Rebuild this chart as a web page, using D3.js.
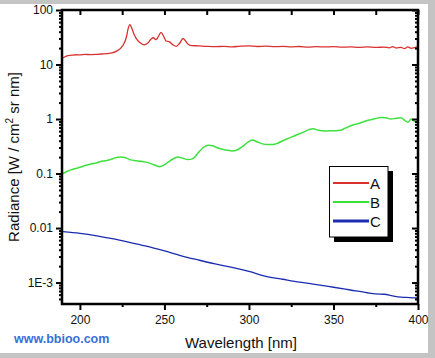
<!DOCTYPE html>
<html>
<head>
<meta charset="utf-8">
<script src="https://cdn.jsdelivr.net/npm/d3@7"></script>
<style>
  body { margin: 0; background: #fff; }
  svg { display: block; }
  text { font-family: "Liberation Sans", Arial, sans-serif; }
</style>
</head>
<body>
<svg width="435" height="358"></svg>
<script>
// wavelength [nm] / radiance values
const waveA = [190,192,195,198,200,203,206,210,213,216,219,222,224,226,227.5,228.5,229.5,230.5,232,234,236,238,240,242,243.5,245,246.5,248,249.5,251,253,255,257,259,261,262.5,264,266,270,275,280,285,290,295,300,305,310,315,320,325,330,335,340,345,350,355,360,365,370,375,380,383,385,387,390,392,394,396,398,400];
const valA = [13.2,14.3,14.8,15.1,15.0,15.3,15.2,15.4,15.6,15.8,16.3,17.8,19.8,24,32,45,54,48,36,28,24.5,23,24.5,29,31,28.5,33,39,33,27,26,23,21.5,24.5,30,27,23.5,22.3,22,21.5,21.2,21.6,21,21.8,22,21.4,21.7,21.2,21.5,21,21.4,20.9,21.3,21,21.2,20.8,21,20.7,21.1,20.6,20.9,20.2,21.3,20.1,20.6,19.6,21,19.8,20.5,21];

const waveB = [190,192,195,198,200,203,206,209,212,215,218,221,224,227,230,233,236,239,242,245,247,249,252,255,258,261,264,267,270,273,276,279,282,286,290,293,296,299,302,305,308,311,314,317,320,324,328,332,336,338,341,345,350,354,357,361,365,369,372,375,378,381,384,387,390,392,394,396,398,400];
const valB = [0.100,0.108,0.118,0.125,0.13,0.14,0.148,0.155,0.165,0.172,0.18,0.195,0.2,0.195,0.178,0.172,0.168,0.162,0.152,0.14,0.133,0.14,0.16,0.185,0.2,0.19,0.18,0.19,0.24,0.3,0.33,0.32,0.29,0.27,0.26,0.27,0.31,0.37,0.41,0.38,0.35,0.34,0.34,0.36,0.4,0.45,0.51,0.57,0.65,0.66,0.62,0.6,0.61,0.62,0.68,0.77,0.83,0.92,0.97,1.02,1.07,1.05,1.0,1.03,1.05,0.95,0.87,1.0,0.9,0.88];

const waveC = [190,200,210,220,230,240,250,260,270,280,290,300,310,320,330,340,350,360,370,375,380,385,390,395,400];
const valC = [0.0086,0.0080,0.0072,0.0063,0.0054,0.0046,0.0038,0.0031,0.0026,0.0022,0.0019,0.0016,0.0013,0.00115,0.00102,0.00092,0.00082,0.00073,0.00065,0.00062,0.00061,0.00057,0.00054,0.00053,0.00052];

const seriesNames = ["A", "B", "C"];
const seriesColors = ["#d93030", "#3ee03e", "#1c2cb0"];

const xTicks = [200, 250, 300, 350, 400];
const xMinorTicks = [225, 275, 325, 375];
const yTicks = [100, 10, 1, 0.1, 0.01, 0.001];
const yTickLabels = ["100", "10", "1", "0.1", "0.01", "1E-3"];

const svg = d3.select("svg");

// card with a grey shadow around it
svg.append("rect").attr("width", 435).attr("height", 358).attr("fill", "#c4c4c4");
svg.append("rect").attr("x", 0).attr("y", 4).attr("width", 428).attr("height", 349).attr("fill", "#fff");

const pLeft = 62, pRight = 418, pTop = 10, pBottom = 304;

const x = d3.scaleLinear().domain([189.4, 400]).range([pLeft, pRight]);
const y = d3.scaleLog().domain([4.04e-4, 100]).range([pBottom, pTop]);

const minorY = y.ticks().filter(v => !yTicks.some(t => Math.abs(t - v) / t < 1e-6));

// clip for the curves
svg.append("clipPath").attr("id", "clip")
  .append("rect").attr("x", pLeft).attr("y", pTop).attr("width", pRight - pLeft).attr("height", pBottom - pTop);

const line = d3.line()
  .x(d => x(d[0]))
  .y(d => y(d[1]))
  .curve(d3.curveMonotoneX);

const data = [
  d3.zip(waveA, valA),
  d3.zip(waveB, valB),
  d3.zip(waveC, valC)
];
const widths = [1.3, 1.5, 1.3];

svg.append("g").attr("clip-path", "url(#clip)")
  .selectAll("path")
  .data(data)
  .enter()
  .append("path")
  .attr("fill", "none")
  .attr("stroke", (d, i) => seriesColors[i])
  .attr("stroke-width", (d, i) => widths[i])
  .attr("d", line);

// axes
function styleAxis(g) {
  g.select(".domain").remove();
  g.selectAll("line").attr("stroke", "#000").attr("stroke-width", 2);
  g.selectAll("text").attr("font-size", 12).attr("fill", "#111");
}

svg.append("g").attr("transform", `translate(0,${pBottom})`)
  .call(d3.axisBottom(x).tickValues(xTicks).tickSize(6).tickPadding(5).tickFormat(d3.format("d")))
  .call(styleAxis);
svg.append("g").attr("transform", `translate(0,${pBottom})`)
  .call(d3.axisBottom(x).tickValues(xMinorTicks).tickSize(3).tickFormat(""))
  .call(styleAxis);
svg.append("g").attr("transform", `translate(0,${pTop})`)
  .call(d3.axisBottom(x).tickValues(xTicks.concat(xMinorTicks)).tickSize(5).tickFormat(""))
  .call(styleAxis);

svg.append("g").attr("transform", `translate(${pLeft},0)`)
  .call(d3.axisLeft(y).tickValues(yTicks).tickSize(6).tickPadding(3).tickFormat((d, i) => yTickLabels[i]))
  .call(styleAxis);
svg.append("g").attr("transform", `translate(${pLeft},0)`)
  .call(d3.axisLeft(y).tickValues(minorY).tickSize(3).tickFormat(""))
  .call(styleAxis);
svg.append("g").attr("transform", `translate(${pRight},0)`)
  .call(d3.axisLeft(y).tickValues(yTicks).tickSize(6).tickFormat(""))
  .call(styleAxis);
svg.append("g").attr("transform", `translate(${pRight},0)`)
  .call(d3.axisLeft(y).tickValues(minorY).tickSize(3).tickFormat(""))
  .call(styleAxis);

svg.append("rect")
  .attr("x", pLeft).attr("y", pTop)
  .attr("width", pRight - pLeft).attr("height", pBottom - pTop)
  .attr("fill", "none").attr("stroke", "#000").attr("stroke-width", 2.5);

// axis titles
svg.append("text")
  .attr("x", 241).attr("y", 348)
  .attr("text-anchor", "middle")
  .attr("font-size", 15)
  .attr("fill", "#111")
  .text("Wavelength [nm]");

const yl = svg.append("text")
  .attr("transform", "translate(19,157) rotate(-90)")
  .attr("text-anchor", "middle")
  .attr("font-size", 15)
  .attr("fill", "#111");
yl.append("tspan").text("Radiance [W / cm");
yl.append("tspan").attr("dy", -6).attr("font-size", 10).text("2");
yl.append("tspan").attr("dy", 6).text(" sr nm]");

// legend
const lg = svg.append("g").attr("transform", "translate(329,166)");
lg.append("rect").attr("x", 5).attr("y", 5).attr("width", 59).attr("height", 71).attr("fill", "#000");
lg.append("rect").attr("x", 0.5).attr("y", 0.5).attr("width", 58.5).attr("height", 70.5)
  .attr("fill", "#fff").attr("stroke", "#000").attr("stroke-width", 1);
const entry = lg.selectAll("g.entry")
  .data(seriesNames)
  .enter()
  .append("g")
  .attr("class", "entry")
  .attr("transform", (d, i) => `translate(0,${17 + i * 19})`);
entry.append("line")
  .attr("x1", 4).attr("x2", 40)
  .attr("stroke", (d, i) => seriesColors[i])
  .attr("stroke-width", (d, i) => i === 2 ? 3 : 2);
entry.append("text")
  .attr("x", 41).attr("y", 5.5)
  .attr("font-size", 15)
  .attr("fill", "#111")
  .text(d => d);

// watermark
svg.append("text")
  .attr("x", 14).attr("y", 343)
  .attr("font-family", "DejaVu Sans, sans-serif")
  .attr("font-weight", "bold")
  .attr("font-size", 12.5)
  .attr("fill", "#3a70d6")
  .text("www.bbioo.com");
</script>
</body>
</html>
